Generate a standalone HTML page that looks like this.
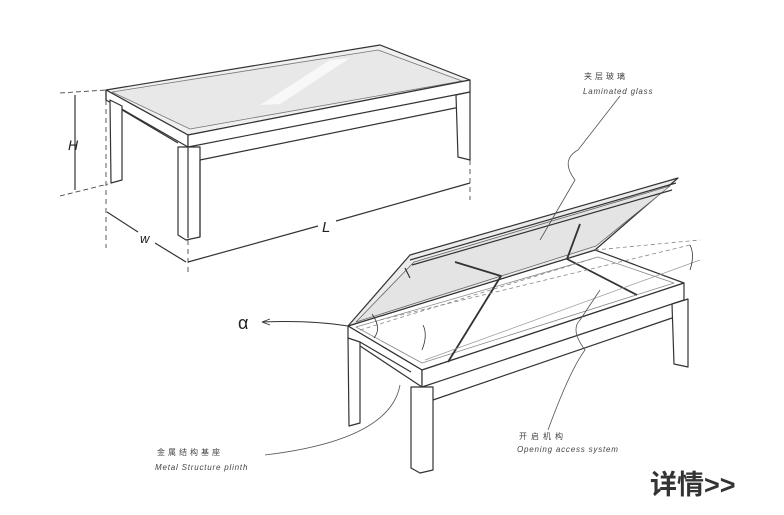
<!DOCTYPE html>
<html><head><meta charset="utf-8"><style>
html,body{margin:0;padding:0;background:#fff}
svg{display:block}
text{font-family:"Liberation Sans","Noto Sans CJK SC",sans-serif}
</style></head><body>
<svg width="784" height="515" viewBox="0 0 784 515" xmlns="http://www.w3.org/2000/svg">
<rect width="784" height="515" fill="#fff"/>
<g stroke="#333" stroke-width="1.2" fill="none" stroke-linejoin="round">
<!-- Table 1 -->
<polygon points="106,90 380,45 470,80 188,135" fill="#f0f0f0"/>
<polygon points="112,92 378,50 462,81 190,129" fill="#e8e8e8" stroke="#777" stroke-width="0.8"/>
<polygon points="260,105 330,60 350,58 280,104" fill="#f8f8f8" stroke="none"/>
<polygon points="106,90 188,135 188,147 106,100" fill="#fff"/>
<polygon points="188,135 470,80 470,92 188,147" fill="#fff"/>
<polygon points="178,147 200,147 200,237 186,240 178,235" fill="#fff"/>
<line x1="188" y1="147" x2="188" y2="238"/>
<line x1="200" y1="160" x2="465" y2="106"/>
<line x1="200" y1="160" x2="200" y2="237"/>
<line x1="112" y1="104" x2="178" y2="143"/>
<polygon points="110,100 122,106 122,180 111,183" fill="#fff"/>
<polygon points="456,95 470,92 470,160 458,157" fill="#fff"/>
<line x1="106" y1="90" x2="106" y2="100"/>
<!-- dimension lines -->
<line x1="75" y1="95" x2="75" y2="190"/>
<line x1="60" y1="93" x2="106" y2="90" stroke-dasharray="5,3" stroke-width="0.8"/>
<line x1="60" y1="196" x2="108" y2="184" stroke-dasharray="5,3" stroke-width="0.8"/>
<line x1="106" y1="100" x2="106" y2="248" stroke-dasharray="5,4" stroke-width="0.8"/>
<line x1="188" y1="240" x2="188" y2="275" stroke-dasharray="5,4" stroke-width="0.8"/>
<line x1="470" y1="160" x2="470" y2="200" stroke-dasharray="5,4" stroke-width="0.8"/>
<line x1="107" y1="212" x2="138" y2="232"/>
<line x1="155" y1="243" x2="186" y2="262"/>
<line x1="188" y1="262" x2="318" y2="226"/>
<line x1="336" y1="221" x2="470" y2="183"/>
<!-- Table 2 -->
<polygon points="348,326 422,370 684,283 595,250" fill="#fff"/>
<polygon points="356,327 422,363 674,283 598,257" stroke="#888" stroke-width="0.8"/>
<polygon points="348,326 422,370 422,387 348,338" fill="#fff"/>
<polygon points="422,370 684,283 684,300 422,387" fill="#fff"/>
<polygon points="411,387 433,387 433,470 420,473 411,468" fill="#fff"/>
<line x1="433" y1="400" x2="672" y2="318"/>
<line x1="360" y1="342" x2="411" y2="372"/>
<polygon points="348,338 360,342 360,423 349,426" fill="#fff"/>
<polygon points="672,304 688,299 688,367 674,364" fill="#fff"/>
<!-- lid -->
<polygon points="348,326 410,255 678,178 595,250" fill="#ececec"/>
<polygon points="356,322 414,262 670,186 596,246" stroke="#666" stroke-width="0.8" fill="#e4e4e4"/>
<line x1="410" y1="260" x2="676" y2="183"/>
<line x1="412" y1="265" x2="672" y2="190"/>
<line x1="405" y1="268" x2="410" y2="278" />
<path d="M448,362 L501,276 L455,262" stroke-width="1.8"/>
<path d="M637,295 L567,259 L580,224" stroke-width="1.8"/>
<path d="M360,330 L595,258" stroke-dasharray="4,3" stroke="#888" stroke-width="0.8"/>
<path d="M380,320 L690,245" stroke-dasharray="4,3" stroke="#888" stroke-width="0.8"/>
<path d="M595,250 L700,240" stroke-dasharray="4,3" stroke="#888" stroke-width="0.8"/>
<path d="M425,360 L700,260" stroke="#999" stroke-width="0.7"/>
<path d="M372,314 Q382,328 374,338" stroke-width="0.8"/>
<path d="M690,270 Q695,255 690,245" stroke-width="0.8"/>
<path d="M422,350 Q428,335 423,325" stroke-width="0.8"/>
<!-- leaders -->
<path d="M262,322 Q310,320 348,326" stroke-width="0.9"/>
<path d="M262,322 l8,-3 M262,322 l8,3" stroke-width="0.9"/>
<path d="M540,240 L575,180 Q560,160 578,150 L620,96" stroke="#555" stroke-width="0.8"/>
<path d="M548,430 Q570,370 585,350 Q570,330 580,320 L600,290" stroke="#555" stroke-width="0.8"/>
<path d="M265,455 Q390,440 400,385" stroke="#555" stroke-width="0.8"/>
</g>
<g fill="#222" font-style="italic">
<text x="68" y="150" font-size="14">H</text>
<text x="140" y="243" font-size="13">w</text>
<text x="322" y="232" font-size="15">L</text>
<text x="238" y="329" font-size="18" font-style="normal">α</text>
</g>
<g fill="#444" font-size="8">
<text x="584" y="79" letter-spacing="3">夹层玻璃</text>
<text x="583" y="94" font-style="italic" letter-spacing="0.8">Laminated glass</text>
<text x="519" y="439" letter-spacing="4">开启机构</text>
<text x="517" y="452" font-style="italic" letter-spacing="0.8">Opening access system</text>
<text x="157" y="455" letter-spacing="3">金属结构基座</text>
<text x="155" y="470" font-style="italic" letter-spacing="0.8">Metal Structure plinth</text>
</g>
<text x="650" y="494" font-size="27" font-weight="bold" fill="#333">详情&gt;&gt;</text>
</svg>
</body></html>
